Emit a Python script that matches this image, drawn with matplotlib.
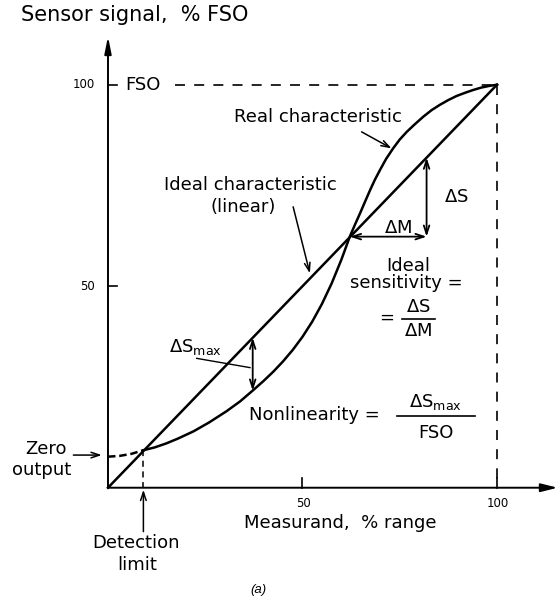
import matplotlib as mpl
mpl.use('Agg')
import matplotlib.pyplot as plt

# real characteristic (% range, % FSO)
zero_x = [0, 3, 6, 9.1]
zero_y = [7.7, 7.9, 8.4, 9.3]
real_x = [9.1, 12, 15, 18, 22, 26, 30.5, 34, 37.2, 40, 42.5, 45, 47.5, 50, 52.5,
          55, 57.5, 60, 62.2, 63.5, 64.8, 66, 67.4, 68.6, 69.9, 71.5, 73.3, 75,
          76.8, 79, 81.1, 83.2, 85.3, 87.5, 89.6, 91.8, 93.9, 96, 98, 100]
real_y = [9.3, 10.0, 11.0, 12.2, 14.0, 16.2, 19.0, 21.45, 24.1, 26.5, 28.8, 31.35,
          34.2, 37.45, 41.2, 45.6, 50.7, 56.6, 62.4, 65.3, 68.1, 70.8, 73.9, 76.4,
          78.8, 81.6, 84.2, 86.4, 88.3, 90.3, 92.1, 93.7, 95.0, 96.2, 97.2, 98.0,
          98.7, 99.3, 99.7, 100]
ideal_x = [0, 100]
ideal_y = [0, 100]

detect_x = 9.1
dsmax_x = 37.2
dsmax_low = 24.1
cross_x = 62.2
dm_end = 81.9

y_ticks = [50, 100]
x_ticks = [50, 100]

fig = plt.figure(figsize=(5.59, 6.06), dpi=100)
ax = fig.add_axes([0, 0, 1, 1])
ax.set_xlim(-27.76, 115.94)
ax.set_ylim(-29.35, 121.02)
ax.axis('off')

font = 'DejaVu Sans'
fs = 13
k = 'black'
thin = dict(arrowstyle='->,head_length=0.6,head_width=0.2', lw=1.1, color=k, shrinkA=0, shrinkB=0)
dbl = dict(arrowstyle='<->,head_length=0.6,head_width=0.2', lw=1.3, color=k, shrinkA=0, shrinkB=0)

# axes with arrow heads
ax.annotate('', xy=(115.6, 0), xytext=(0, 0),
            arrowprops=dict(arrowstyle='-|>,head_length=1.0,head_width=0.25', lw=1.4, color=k,
                            shrinkA=0, shrinkB=0))
ax.annotate('', xy=(0, 112), xytext=(0, 0),
            arrowprops=dict(arrowstyle='-|>,head_length=1.0,head_width=0.2', lw=1.4, color=k,
                            shrinkA=0, shrinkB=0))

for v in y_ticks:
    ax.plot([0, 2.2], [v, v], color=k, lw=1.2)
    ax.text(-3.3, v, str(v), ha='right', va='center', fontsize=8.5, family=font)
for v in x_ticks:
    ax.plot([v, v], [0, 2.5], color=k, lw=1.2)
    ax.text(v + 0.3, -4.0, str(v), ha='center', va='center', fontsize=8.5, family=font)

# FSO guides
ax.text(4.4, 100, 'FSO', ha='left', va='center', fontsize=13, family=font)
ax.plot([17.2, 100], [100, 100], color=k, lw=1.2, dashes=(6, 5.5))
ax.plot([100, 100], [100, 0], color=k, lw=1.2, dashes=(6, 5.5))

# characteristics
ax.plot(ideal_x, ideal_y, color=k, lw=1.8)
ax.plot(real_x, real_y, color=k, lw=1.8, solid_joinstyle='round')
ax.plot(zero_x, zero_y, color=k, lw=1.8, dashes=(3, 1.5))

# detection limit
ax.plot([detect_x, detect_x], [9.3, 0], color=k, lw=1.1, dashes=(4, 3))
ax.annotate('', xy=(detect_x, -0.5), xytext=(detect_x, -10.9), arrowprops=thin)
ax.text(7.3, -13.7, 'Detection', ha='center', va='center', fontsize=fs, family=font)
ax.text(7.5, -19.2, 'limit', ha='center', va='center', fontsize=fs, family=font)

# zero output
ax.annotate('', xy=(-1.6, 8.1), xytext=(-8.9, 8.1), arrowprops=thin)
ax.text(-15.9, 9.5, 'Zero', ha='center', va='center', fontsize=fs, family=font)
ax.text(-17.1, 4.4, 'output', ha='center', va='center', fontsize=fs, family=font)

# axis titles and curve labels
ax.text(6.9, 117.3, 'Sensor signal,  % FSO', ha='center', va='center', fontsize=15, family=font)
ax.text(59.6, -8.8, 'Measurand,  % range', ha='center', va='center', fontsize=13, family=font)
ax.text(54.0, 91.9, 'Real characteristic', ha='center', va='center', fontsize=fs, family=font)
ax.annotate('', xy=(72.9, 84.2), xytext=(65.2, 88.3), arrowprops=thin)
ax.text(36.6, 75.1, 'Ideal characteristic', ha='center', va='center', fontsize=fs, family=font)
ax.text(34.7, 69.7, '(linear)', ha='center', va='center', fontsize=fs, family=font)
ax.annotate('', xy=(51.9, 53.2), xytext=(47.6, 69.7), arrowprops=thin)

# delta S max
ax.annotate('', xy=(dsmax_x, dsmax_x), xytext=(dsmax_x, dsmax_low), arrowprops=dbl)
ax.text(22.6, 35.0, r'$\Delta\mathrm{S}_{\mathrm{max}}$', ha='center', va='center', fontsize=13)
ax.plot([22.8, 36.5], [32.1, 29.8], color=k, lw=1.0)

# delta S / delta M
ax.annotate('', xy=(dm_end, 62.3), xytext=(cross_x, 62.3), arrowprops=dbl)
ax.annotate('', xy=(dm_end, dm_end), xytext=(dm_end, 62.3), arrowprops=dbl)
ax.text(74.6, 64.4, r'$\Delta\mathrm{M}$', ha='center', va='center', fontsize=13)
ax.text(86.3, 72.2, r'$\Delta\mathrm{S}$', ha='left', va='center', fontsize=13)

# sensitivity formula
ax.text(77.1, 55.0, 'Ideal', ha='center', va='center', fontsize=fs, family=font)
ax.text(76.8, 50.8, 'sensitivity =', ha='center', va='center', fontsize=fs, family=font)
ax.text(71.6, 42.2, '=', ha='center', va='center', fontsize=fs, family=font)
ax.text(79.8, 44.9, r'$\Delta\mathrm{S}$', ha='center', va='center', fontsize=13)
ax.plot([75.5, 84.1], [41.9, 41.9], color=k, lw=1.2)
ax.text(79.8, 39.0, r'$\Delta\mathrm{M}$', ha='center', va='center', fontsize=13)

# nonlinearity formula
ax.text(36.3, 18.0, 'Nonlinearity =', ha='left', va='center', fontsize=fs, family=font)
ax.text(84.3, 21.2, r'$\Delta\mathrm{S}_{\mathrm{max}}$', ha='center', va='center', fontsize=13)
ax.plot([74.2, 94.4], [17.8, 17.8], color=k, lw=1.2)
ax.text(84.3, 13.6, 'FSO', ha='center', va='center', fontsize=13, family=font)

ax.text(38.6, -25.4, '(a)', ha='center', va='center', fontsize=9.5, style='italic',
        family='Liberation Sans')

fig.savefig('out.png', dpi=100)
